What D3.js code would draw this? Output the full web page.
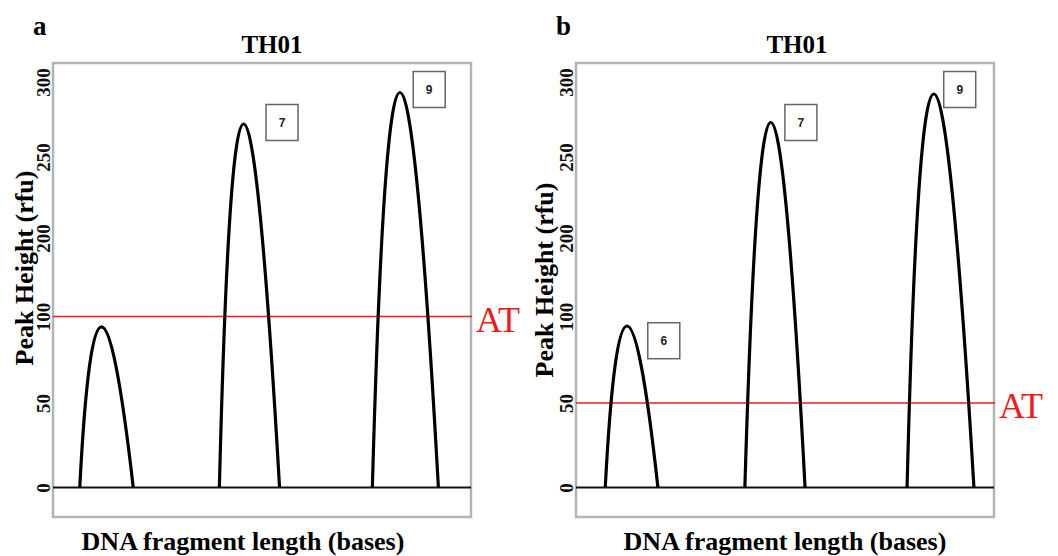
<!DOCTYPE html>
<html>
<head>
<meta charset="utf-8">
<script src="https://cdn.jsdelivr.net/npm/d3@7"></script>
<style>
  html, body { margin: 0; padding: 0; background: #fff; }
  svg { display: block; }
</style>
</head>
<body>
<svg id="chart" width="1058" height="556"></svg>
<script>
// ---------------- DATA ----------------
const panelLetters = ["a", "b"];
const locusName = "TH01";
const yTickValues = [0, 50, 100, 200, 250, 300];
const thresholds = [100, 50];              // analytical threshold (rfu) per panel
const thresholdLabel = "AT";

// peaks per panel: start, apex, end (bases), apex height (rfu)
const peakStartA = [153.2, 169.9, 188.2];
const peakApexA  = [155.8, 172.8, 191.5];
const peakEndA   = [159.6, 177.1, 196.1];
const peakHeightA = [94, 272, 293];

const peakStartB = [153.5, 170.2, 189.6];
const peakApexB  = [156.1, 173.3, 192.8];
const peakEndB   = [159.8, 177.4, 197.6];
const peakHeightB = [94.5, 273, 292];

// allele call labels (only peaks above AT get a call)
const alleleLabelsA = ["7", "9"];
const alleleLabelXA = [177.4, 195.0];
const alleleLabelYA = [273, 295];
const alleleLabelsB = ["6", "7", "9"];
const alleleLabelXB = [160.5, 176.9, 195.9];
const alleleLabelYB = [86, 273, 295];

const xAxisTitle = "DNA fragment length (bases)";
const yAxisTitle = "Peak Height (rfu)";

// ---------------- LAYOUT ----------------
const svg = d3.select("#chart");
const W = 418, H = 454;
const panelLayout = [
  { left: 53, top: 63, titleDx: 10, xTitleDx: -19, yTitleX: -20, yTitleY: 205 },
  { left: 576, top: 63, titleDx: 12, xTitleDx: 0, yTitleX: -23, yTitleY: 217 }
];

const x = d3.scaleLinear().domain([150, 200]).range([0, W]);
// the published axis spaces its tick labels unevenly; follow it piecewise
const y = d3.scaleLinear().domain(yTickValues).range([424.5, 340, 253.5, 175, 94, 19]);

const peaksByPanel = [
  { s: peakStartA, a: peakApexA, e: peakEndA, h: peakHeightA },
  { s: peakStartB, a: peakApexB, e: peakEndB, h: peakHeightB }
];
const labelsByPanel = [
  { t: alleleLabelsA, x: alleleLabelXA, y: alleleLabelYA },
  { t: alleleLabelsB, x: alleleLabelXB, y: alleleLabelYB }
];

const serif = "'Liberation Serif', 'Times New Roman', serif";
const sans = "'Liberation Sans', Arial, sans-serif";

panelLetters.forEach((letter, pi) => {
  const L = panelLayout[pi];
  const g = svg.append("g").attr("transform", `translate(${L.left},${L.top})`);

  // panel letter
  g.append("text")
    .attr("x", -20).attr("y", -28)
    .attr("font-family", serif).attr("font-weight", "bold").attr("font-size", 27)
    .text(letter);

  // locus title
  g.append("text")
    .attr("x", W / 2 + L.titleDx).attr("y", -10)
    .attr("text-anchor", "middle")
    .attr("font-family", serif).attr("font-weight", "bold").attr("font-size", 25)
    .text(locusName);

  // frame
  g.append("rect")
    .attr("x", 0).attr("y", 0).attr("width", W).attr("height", H)
    .attr("fill", "none").attr("stroke", "#b4b4b4").attr("stroke-width", 2.5);

  // y axis
  const yAxis = d3.axisLeft(y).tickValues(yTickValues).tickSize(0).tickFormat(d3.format("d"));
  const ya = g.append("g").call(yAxis);
  ya.select(".domain").remove();
  ya.selectAll("text")
    .attr("x", null).attr("dy", null)
    .attr("transform", "translate(-3,0) rotate(-90)")
    .attr("text-anchor", "middle")
    .attr("fill", "#111")
    .attr("font-family", serif).attr("font-weight", "bold").attr("font-size", 19);

  // baseline
  g.append("line")
    .attr("x1", 0).attr("x2", W)
    .attr("y1", y(0)).attr("y2", y(0))
    .attr("stroke", "#111").attr("stroke-width", 1.8);

  // threshold
  const ty = y(thresholds[pi]);
  g.append("line")
    .attr("x1", 0).attr("x2", W + 1)
    .attr("y1", ty).attr("y2", ty)
    .attr("stroke", "#ee1c1c").attr("stroke-width", 1.6);
  g.append("text")
    .attr("x", W + 5).attr("y", ty + 15)
    .attr("fill", "#ee1c1c")
    .attr("font-family", serif).attr("font-size", 36)
    .text(thresholdLabel);

  // peaks (parabolic arches)
  const P = peaksByPanel[pi];
  P.s.forEach((s, i) => {
    const x0 = x(s), x2 = x(P.e[i]), xa = x(P.a[i]);
    const b = y(0), top = y(P.h[i]);
    const cx = (4 * xa - x0 - x2) / 2;
    const cy = b - 2 * (b - top);
    const p = d3.path();
    p.moveTo(x0, b);
    p.quadraticCurveTo(cx, cy, x2, b);
    g.append("path")
      .attr("d", p.toString())
      .attr("fill", "none").attr("stroke", "#000").attr("stroke-width", 3.2)
      .attr("stroke-linejoin", "round");
  });

  // allele label boxes
  const Lb = labelsByPanel[pi];
  const bw = 32, bh = 36;
  Lb.t.forEach((t, i) => {
    const cxp = x(Lb.x[i]), cyp = y(Lb.y[i]);
    g.append("rect")
      .attr("x", cxp - bw / 2).attr("y", cyp - bh / 2)
      .attr("width", bw).attr("height", bh)
      .attr("fill", "#fff").attr("stroke", "#666").attr("stroke-width", 1.5);
    g.append("text")
      .attr("x", cxp).attr("y", cyp + 4)
      .attr("text-anchor", "middle")
      .attr("font-family", sans).attr("font-weight", "bold").attr("font-size", 12)
      .attr("fill", "#222")
      .text(t);
  });

  // axis titles
  g.append("text")
    .attr("x", W / 2 + L.xTitleDx).attr("y", H + 33)
    .attr("text-anchor", "middle")
    .attr("font-family", serif).attr("font-weight", "bold").attr("font-size", 26)
    .text(xAxisTitle);

  g.append("text")
    .attr("transform", `translate(${L.yTitleX},${L.yTitleY}) rotate(-90)`)
    .attr("text-anchor", "middle")
    .attr("font-family", serif).attr("font-weight", "bold").attr("font-size", 26)
    .text(yAxisTitle);
});
</script>
</body>
</html>
